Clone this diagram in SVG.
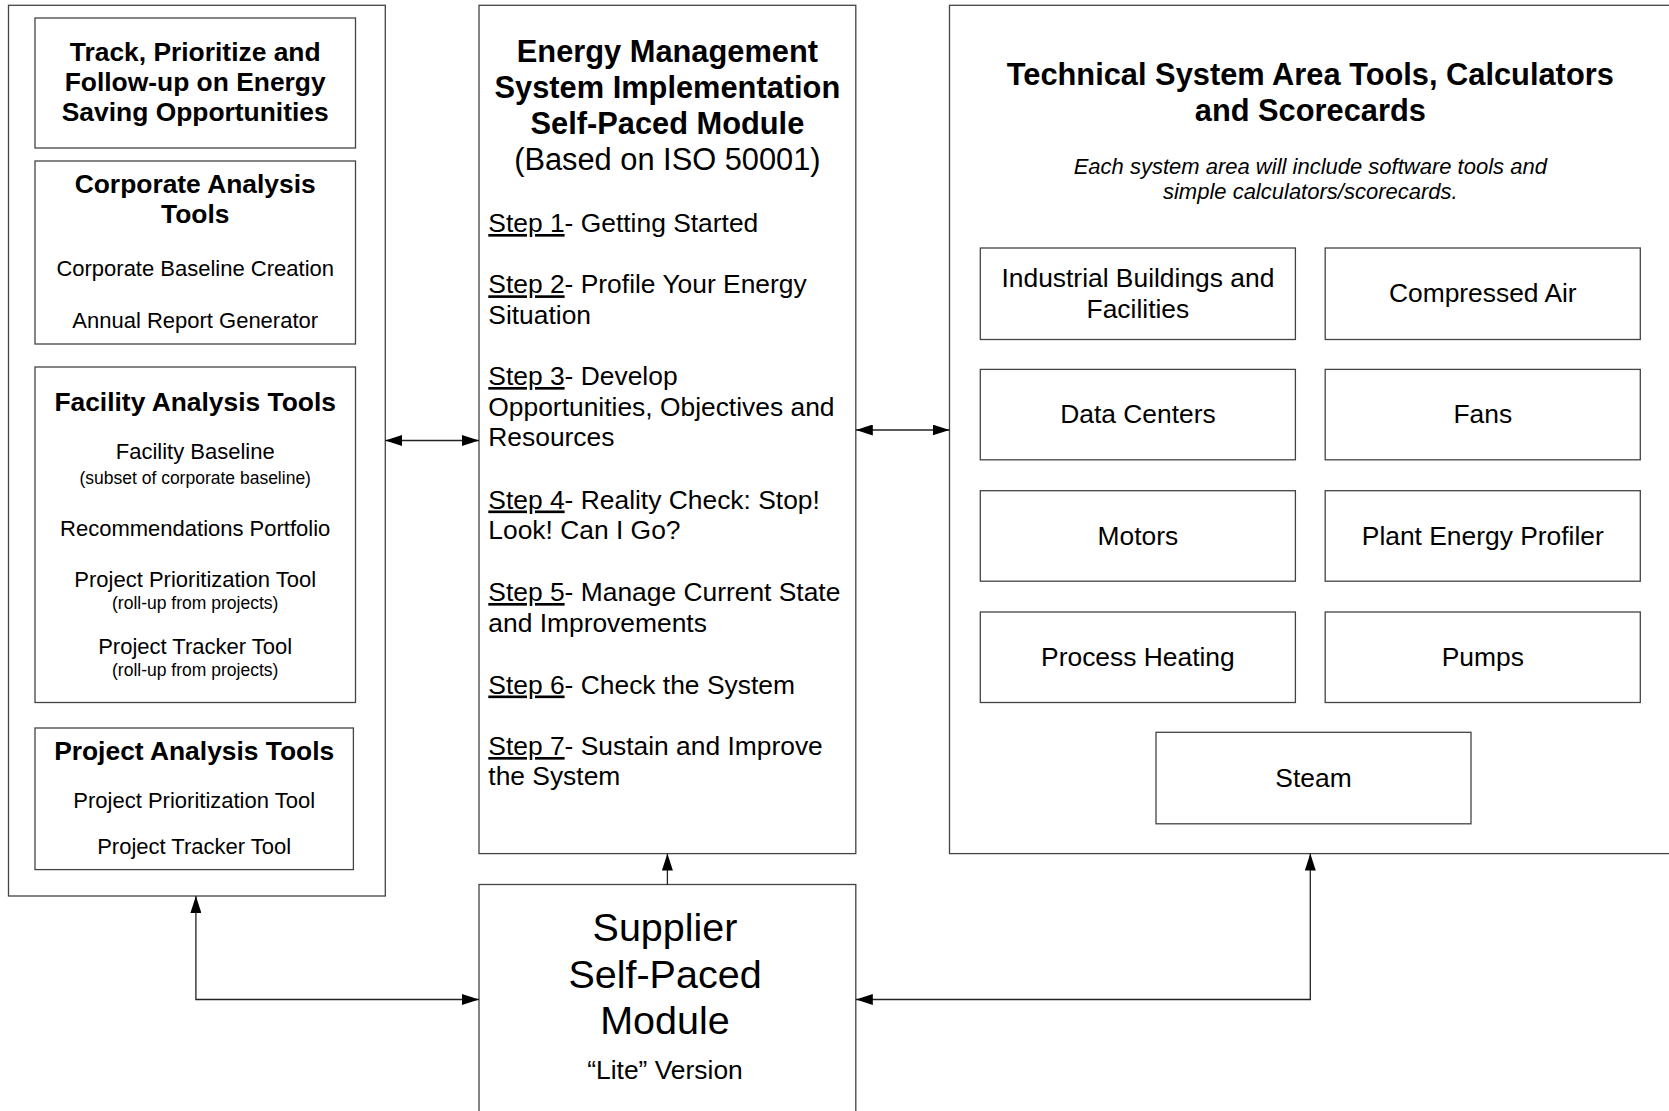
<svg xmlns="http://www.w3.org/2000/svg" width="1669" height="1111" viewBox="0 0 1669 1111">
<style>
.box{fill:#fff;stroke:#444;stroke-width:1.3}
.t{font-family:"Liberation Sans",Arial,sans-serif;fill:#000}
.b{font-weight:bold}
.tb{font-size:26.4px;font-weight:bold;text-anchor:middle}
.tr{font-size:22px;text-anchor:middle}
.ts{font-size:17.5px;text-anchor:middle}
.step{font-size:26.4px}
.u{text-decoration:underline}
.lbl{font-size:26.4px;text-anchor:middle}
.con{fill:none;stroke:#222;stroke-width:1.3}
</style>
<defs>
<marker id="ah" viewBox="0 0 17 11" refX="17" refY="5.5" markerWidth="17" markerHeight="11" markerUnits="userSpaceOnUse" orient="auto-start-reverse">
<path d="M0,0 L17,5.5 L0,11 z" fill="#000"/>
</marker>
</defs>
<rect width="1669" height="1111" fill="#fff"/>

<g id="left-panel">
<rect class="box" x="8.5" y="5.3" width="376.8" height="890.7"/>
</g>
<g id="track-box">
<rect class="box" x="35" y="18" width="320.5" height="130"/>
<text class="t tb" x="195.2" y="60.5">Track, Prioritize and</text>
<text class="t tb" x="195.2" y="90.7">Follow-up on Energy</text>
<text class="t tb" x="195.2" y="120.5">Saving Opportunities</text>
</g>
<g id="corporate-box">
<rect class="box" x="35" y="161" width="320.5" height="183"/>
<text class="t tb" x="195.2" y="193">Corporate Analysis</text>
<text class="t tb" x="195.2" y="223">Tools</text>
<text class="t tr" x="195.2" y="276">Corporate Baseline Creation</text>
<text class="t tr" x="195.2" y="328">Annual Report Generator</text>
</g>
<g id="facility-box">
<rect class="box" x="35" y="367" width="320.5" height="335.5"/>
<text class="t tb" x="195.2" y="411">Facility Analysis Tools</text>
<text class="t tr" x="195.2" y="459">Facility Baseline</text>
<text class="t ts" x="195.2" y="484">(subset of corporate baseline)</text>
<text class="t tr" x="195.2" y="536">Recommendations Portfolio</text>
<text class="t tr" x="195.2" y="587">Project Prioritization Tool</text>
<text class="t ts" x="195.2" y="608.5">(roll-up from projects)</text>
<text class="t tr" x="195.2" y="654">Project Tracker Tool</text>
<text class="t ts" x="195.2" y="675.5">(roll-up from projects)</text>
</g>
<g id="project-box">
<rect class="box" x="35" y="728" width="318.4" height="141.6"/>
<text class="t tb" x="194.2" y="760">Project Analysis Tools</text>
<text class="t tr" x="194.2" y="808">Project Prioritization Tool</text>
<text class="t tr" x="194.2" y="854">Project Tracker Tool</text>
</g>

<g id="ems-box">
<rect class="box" x="479" y="5.3" width="376.8" height="848.3"/>
<text class="t b" font-size="30.8" text-anchor="middle" x="667.4" y="62">Energy Management</text>
<text class="t b" font-size="30.8" text-anchor="middle" x="667.4" y="98">System Implementation</text>
<text class="t b" font-size="30.8" text-anchor="middle" x="667.4" y="134">Self-Paced Module</text>
<text class="t" font-size="30.8" text-anchor="middle" x="667.4" y="170">(Based on ISO 50001)</text>
<text class="t step" x="488.3" y="232"><tspan class="u">Step 1</tspan>- Getting Started</text>
<text class="t step" x="488.3" y="293.3"><tspan class="u">Step 2</tspan>- Profile Your Energy</text>
<text class="t step" x="488.3" y="324.3">Situation</text>
<text class="t step" x="488.3" y="385"><tspan class="u">Step 3</tspan>- Develop</text>
<text class="t step" x="488.3" y="415.5">Opportunities, Objectives and</text>
<text class="t step" x="488.3" y="446">Resources</text>
<text class="t step" x="488.3" y="508.5"><tspan class="u">Step 4</tspan>- Reality Check: Stop!</text>
<text class="t step" x="488.3" y="539.3">Look! Can I Go?</text>
<text class="t step" x="488.3" y="601"><tspan class="u">Step 5</tspan>- Manage Current State</text>
<text class="t step" x="488.3" y="631.7">and Improvements</text>
<text class="t step" x="488.3" y="693.5"><tspan class="u">Step 6</tspan>- Check the System</text>
<text class="t step" x="488.3" y="755"><tspan class="u">Step 7</tspan>- Sustain and Improve</text>
<text class="t step" x="488.3" y="785">the System</text>
</g>

<g id="supplier-box">
<rect class="box" x="479" y="884.5" width="376.8" height="240"/>
<text class="t" font-size="39.5" text-anchor="middle" x="665" y="941">Supplier</text>
<text class="t" font-size="39.5" text-anchor="middle" x="665" y="988">Self-Paced</text>
<text class="t" font-size="39.5" text-anchor="middle" x="665" y="1034">Module</text>
<text class="t" font-size="26.4" text-anchor="middle" x="665" y="1079">“Lite” Version</text>
</g>

<g id="technical-panel">
<rect class="box" x="949.5" y="5.3" width="740" height="848.3"/>
<text class="t b" font-size="30.8" text-anchor="middle" x="1310.3" y="84.5">Technical System Area Tools, Calculators</text>
<text class="t b" font-size="30.8" text-anchor="middle" x="1310.3" y="120.5">and Scorecards</text>
<text class="t" font-size="22" font-style="italic" text-anchor="middle" x="1310.3" y="173.5">Each system area will include software tools and</text>
<text class="t" font-size="22" font-style="italic" text-anchor="middle" x="1310.3" y="199">simple calculators/scorecards.</text>
</g>
<g id="industrial-buildings">
<rect class="box" x="980.3" y="248" width="315.1" height="91.5"/>
<text class="t lbl" x="1137.9" y="287">Industrial Buildings and</text>
<text class="t lbl" x="1137.9" y="317.5">Facilities</text>
</g>
<g id="compressed-air">
<rect class="box" x="1325.2" y="248" width="315.1" height="91.5"/>
<text class="t lbl" x="1482.8" y="302">Compressed Air</text>
</g>
<g id="data-centers">
<rect class="box" x="980.3" y="369.4" width="315.1" height="90.4"/>
<text class="t lbl" x="1137.9" y="423">Data Centers</text>
</g>
<g id="fans">
<rect class="box" x="1325.2" y="369.4" width="315.1" height="90.4"/>
<text class="t lbl" x="1482.8" y="423">Fans</text>
</g>
<g id="motors">
<rect class="box" x="980.3" y="490.7" width="315.1" height="90.5"/>
<text class="t lbl" x="1137.9" y="544.5">Motors</text>
</g>
<g id="plant-energy-profiler">
<rect class="box" x="1325.2" y="490.7" width="315.1" height="90.5"/>
<text class="t lbl" x="1482.8" y="544.5">Plant Energy Profiler</text>
</g>
<g id="process-heating">
<rect class="box" x="980.3" y="612" width="315.1" height="90.5"/>
<text class="t lbl" x="1137.9" y="666">Process Heating</text>
</g>
<g id="pumps">
<rect class="box" x="1325.2" y="612" width="315.1" height="90.5"/>
<text class="t lbl" x="1482.8" y="666">Pumps</text>
</g>
<g id="steam">
<rect class="box" x="1156" y="732.3" width="315" height="91.5"/>
<text class="t lbl" x="1313.5" y="786.5">Steam</text>
</g>

<g id="connectors">
<line class="con" x1="385.3" y1="440.5" x2="479" y2="440.5" marker-start="url(#ah)" marker-end="url(#ah)"/>
<line class="con" x1="855.8" y1="430" x2="949.5" y2="430" marker-start="url(#ah)" marker-end="url(#ah)"/>
<line class="con" x1="667.4" y1="884.5" x2="667.4" y2="853.6" marker-end="url(#ah)"/>
<polyline class="con" points="195.9,896 195.9,999.5 479,999.5" marker-start="url(#ah)" marker-end="url(#ah)"/>
<polyline class="con" points="1310.3,853.6 1310.3,999.5 855.8,999.5" marker-start="url(#ah)" marker-end="url(#ah)"/>
</g>
</svg>
